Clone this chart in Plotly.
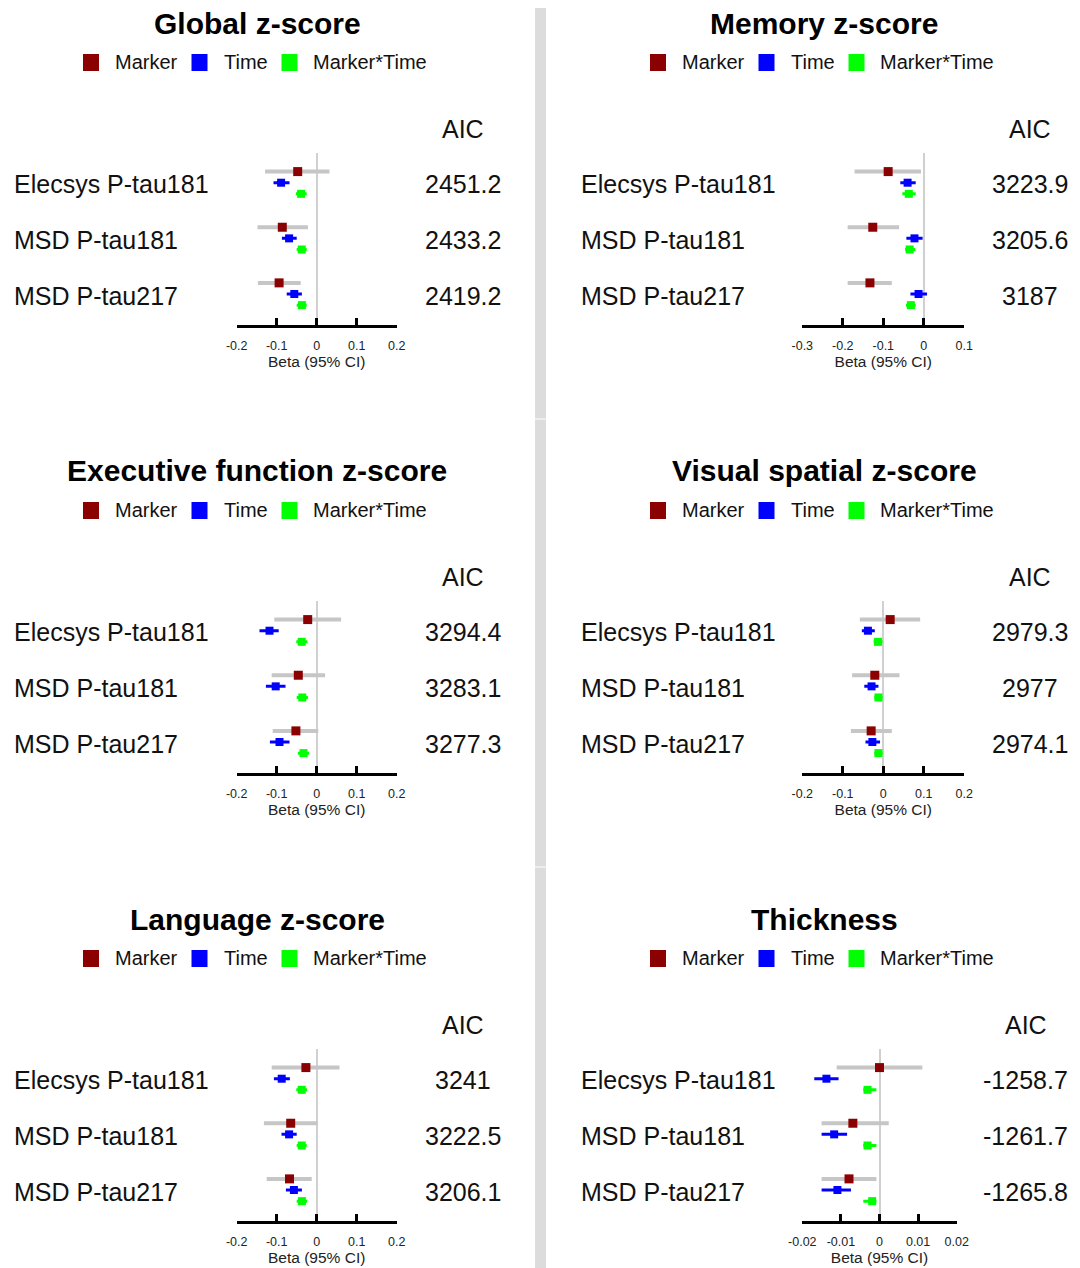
import plotly.graph_objects as go

W, H = 1080, 1268

titles = ["Global z-score", "Memory z-score", "Executive function z-score",
          "Visual spatial z-score", "Language z-score", "Thickness"]
biomarkers = ["Elecsys P-tau181", "MSD P-tau181", "MSD P-tau217"]
terms = ["Marker", "Time", "Marker*Time"]

aic = [["2451.2", "2433.2", "2419.2"],
       ["3223.9", "3205.6", "3187"],
       ["3294.4", "3283.1", "3277.3"],
       ["2979.3", "2977", "2974.1"],
       ["3241", "3222.5", "3206.1"],
       ["-1258.7", "-1261.7", "-1265.8"]]

marker_est = [[-0.0475, -0.086, -0.094], [-0.088, -0.126, -0.133], [-0.0225, -0.046, -0.052],
              [0.017, -0.021, -0.030], [-0.027, -0.065, -0.068], [0.0, -0.0069, -0.0079]]
marker_lo = [[-0.129, -0.148, -0.147], [-0.171, -0.188, -0.188], [-0.106, -0.1125, -0.110],
             [-0.058, -0.077, -0.080], [-0.1125, -0.132, -0.125], [-0.0111, -0.0150, -0.0150]]
marker_hi = [[0.032, -0.022, -0.040], [-0.007, -0.061, -0.079], [0.061, 0.021, 0.004],
             [0.091, 0.040, 0.021], [0.057, 0.002, -0.0125], [0.0111, 0.0024, -0.0008]]

time_est = [[-0.089, -0.069, -0.056], [-0.040, -0.023, -0.013], [-0.118, -0.1025, -0.093],
            [-0.038, -0.029, -0.027], [-0.0875, -0.069, -0.057], [-0.01375, -0.01175, -0.0109]]
time_lo = [[-0.108, -0.087, -0.075], [-0.058, -0.043, -0.033], [-0.143, -0.127, -0.117],
           [-0.053, -0.047, -0.044], [-0.107, -0.088, -0.077], [-0.0169, -0.0150, -0.0150]]
time_hi = [[-0.068, -0.050, -0.037], [-0.020, -0.003, 0.008], [-0.095, -0.078, -0.068],
           [-0.021, -0.012, -0.008], [-0.067, -0.050, -0.037], [-0.0106, -0.0084, -0.0074]]

int_est = [[-0.039, -0.0375, -0.037], [-0.037, -0.035, -0.032], [-0.0375, -0.036, -0.033],
           [-0.013, -0.012, -0.012], [-0.0375, -0.0375, -0.037], [-0.0031, -0.0031, -0.0019]]
int_lo = [[-0.052, -0.050, -0.050], [-0.053, -0.046, -0.044], [-0.051, -0.050, -0.047],
          [-0.024, -0.022, -0.022], [-0.051, -0.050, -0.050], [-0.0042, -0.0042, -0.0042]]
int_hi = [[-0.025, -0.025, -0.025], [-0.020, -0.021, -0.020], [-0.023, -0.022, -0.019],
          [-0.002, -0.002, -0.002], [-0.024, -0.025, -0.024], [-0.0008, -0.0008, -0.0008]]

tick_vals = [[-0.2, -0.1, 0, 0.1, 0.2], [-0.3, -0.2, -0.1, 0, 0.1], [-0.2, -0.1, 0, 0.1, 0.2],
             [-0.2, -0.1, 0, 0.1, 0.2], [-0.2, -0.1, 0, 0.1, 0.2], [-0.02, -0.01, 0, 0.01, 0.02]]
tick_text = [["-0.2", "-0.1", "0", "0.1", "0.2"], ["-0.3", "-0.2", "-0.1", "0", "0.1"],
             ["-0.2", "-0.1", "0", "0.1", "0.2"], ["-0.2", "-0.1", "0", "0.1", "0.2"],
             ["-0.2", "-0.1", "0", "0.1", "0.2"], ["-0.02", "-0.01", "0", "0.01", "0.02"]]

# styling
FONT = "Liberation Sans, Arial, Helvetica, sans-serif"
term_colors = ["#8b0000", "#0000ff", "#00ff00"]
ci_colors = ["#c6c6c6", "#0000ff", "#00ff00"]
ci_widths = [4, 3, 3]
msizes = [9, 8, 8]
offsets = [-0.2, 0.0, 0.2]

# page offset (body margin of the html page)
OFF = 8


def px(x):
    return (x - OFF) / W


def py(y):
    return 1 - (y - OFF) / H


fig = go.Figure()
annotations = []
shapes = []

# x-domain pixel extents per panel
xdom_px = [(236.7, 396.7), (802.3, 964.3), (236.7, 396.7),
           (802.3, 964.3), (236.7, 396.7), (802.3, 956.7)]
aic_center = [463, 1030, 463, 1030, 463, 1026]

for p in range(6):
    col = p % 2
    row = p // 2
    dx = 567 * col
    dy = 448 * row
    ax = "" if p == 0 else str(p + 1)
    xa = "x" + ax
    ya = "y" + ax

    ests = [marker_est[p], time_est[p], int_est[p]]
    los = [marker_lo[p], time_lo[p], int_lo[p]]
    his = [marker_hi[p], time_hi[p], int_hi[p]]
    for t in range(3):
        xs = ests[t]
        ys = [g + offsets[t] for g in range(3)]
        fig.add_trace(go.Scatter(
            x=xs, y=ys, mode="markers", xaxis=xa, yaxis=ya, showlegend=False,
            name=terms[t],
            marker=dict(symbol="square", size=msizes[t], color=term_colors[t], line=dict(width=0)),
            error_x=dict(type="data", symmetric=False,
                         array=[h - e for h, e in zip(his[t], xs)],
                         arrayminus=[e - l for e, l in zip(xs, los[t])],
                         color=ci_colors[t], thickness=ci_widths[t], width=0),
            cliponaxis=False,
        ))

    x0, x1 = xdom_px[p]
    tv = tick_vals[p]
    fig.layout["xaxis" + ax] = dict(
        domain=[px(x0), px(x1)], anchor=ya, range=[tv[0], tv[-1]],
        showgrid=False, zeroline=True, zerolinecolor="#d0d0d0", zerolinewidth=2,
        showline=True, linecolor="black", linewidth=3,
        ticks="inside", ticklen=7, tickwidth=3, tickcolor="black",
        tickmode="array", tickvals=tv, ticktext=tick_text[p],
        tickfont=dict(family=FONT, size=12.5, color="#222"),
        ticklabelstandoff=7,
        title=dict(text="Beta (95% CI)", font=dict(family=FONT, size=15.5, color="#222"), standoff=0),
        automargin=False,
        fixedrange=True,
    )
    fig.layout["yaxis" + ax] = dict(
        domain=[py(325 + dy), py(153 + dy)], anchor=xa, range=[2.557, -0.534],
        visible=False, showgrid=False, zeroline=False, fixedrange=True, automargin=False,
    )

    # title
    annotations.append(dict(text="<b>" + titles[p] + "</b>", x=px(257 + dx), y=py(23 + dy),
                            xref="paper", yref="paper", xanchor="center", yanchor="middle",
                            showarrow=False, font=dict(family=FONT, size=30, color="black")))
    # legend
    leg_sq = [91, 199.5, 289.5]
    leg_tx = [112.5, 221.5, 311]
    for t in range(3):
        shapes.append(dict(type="rect", xref="paper", yref="paper",
                           x0=px(leg_sq[t] - 8 + dx), x1=px(leg_sq[t] + 8 + dx),
                           y0=py(71 + dy), y1=py(54 + dy),
                           fillcolor=term_colors[t], line=dict(width=0)))
        annotations.append(dict(text=terms[t], x=px(leg_tx[t] + dx), y=py(62 + dy),
                                xref="paper", yref="paper", xanchor="left", yanchor="middle",
                                showarrow=False, font=dict(family=FONT, size=20, color="#111")))
    # AIC header
    annotations.append(dict(text="AIC", x=px(aic_center[p]), y=py(129 + dy),
                            xref="paper", yref="paper", xanchor="center", yanchor="middle",
                            showarrow=False, font=dict(family=FONT, size=25, color="#111")))
    # row labels and AIC values
    for g in range(3):
        annotations.append(dict(text=biomarkers[g], x=px(12 + dx), y=g, xref="paper", yref=ya,
                                xanchor="left", yanchor="middle", yshift=-1.5,
                                showarrow=False, font=dict(family=FONT, size=25, color="#111")))
        annotations.append(dict(text=aic[p][g], x=px(aic_center[p]), y=g, xref="paper", yref=ya,
                                xanchor="center", yanchor="middle", yshift=-1.5,
                                showarrow=False, font=dict(family=FONT, size=25, color="#111")))

# vertical divider band
for (a, b) in [(0, 418.5), (419.5, 866.5), (867.5, H + OFF)]:
    shapes.append(dict(type="rect", xref="paper", yref="paper",
                       x0=px(535), x1=px(546), y0=py(b), y1=py(a),
                       fillcolor="#dcdcdc", line=dict(width=0), layer="below"))

fig.update_layout(
    width=W, height=H, margin=dict(l=0, r=0, t=0, b=0, pad=0, autoexpand=False),
    paper_bgcolor="white", plot_bgcolor="white",
    showlegend=False, annotations=annotations, shapes=shapes,
    font=dict(family=FONT),
)

fig.write_html("out.html")
